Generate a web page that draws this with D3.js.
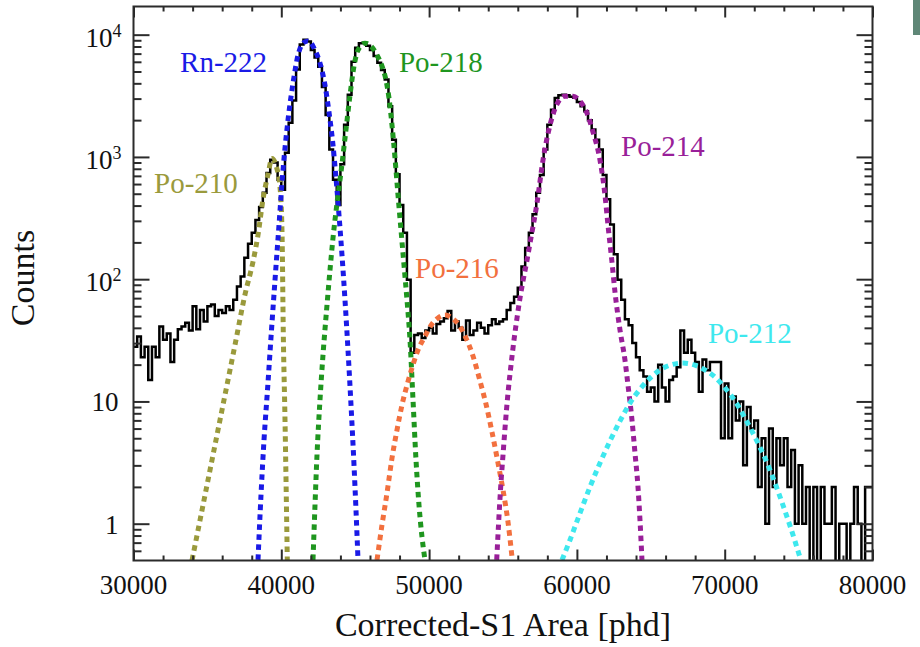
<!DOCTYPE html>
<html>
<head>
<meta charset="utf-8">
<script src="https://cdn.jsdelivr.net/npm/d3@7.9.0/dist/d3.min.js"></script>
<style>
  body { margin: 0; background: #fff; }
  svg { display: block; }
</style>
</head>
<body>
<div id="chart"></div>
<script>
// ---- data ----

// histogram: 250 phd bins starting at 30000
const BIN_START = 30000;
const BIN_WIDTH = 250;
const counts = [
  28, 34, 23, 28,   15, 28, 23, 41,   32, 36, 21, 32,   39, 41, 44, 38,
  60, 39, 56, 45,   60, 62, 50, 56,   53, 60, 56, 68,   87, 105, 150, 195,
  240, 305, 390, 510,   740, 950, 900, 650,   540, 1080, 1900, 2900,
  5200, 8300, 9100, 8800,   7500, 6500, 5470, 3730,   2200, 1150, 650, 405,
  870, 1830, 3230, 6000,   7800, 8500, 8600, 8100,   7500, 6700, 5900, 5150,
  4300, 2600, 1380, 720,   405, 240, 99, 25,   35, 36, 33, 38,
  40, 36, 43, 45,   48, 55, 38, 45,   40, 32, 46, 35,   38, 44, 40, 36,
  42, 47, 43, 45,   47, 56, 64, 72,   85, 127, 180, 240,
  340, 510, 710, 1150,   1830, 2430, 3030, 3200,   3230, 3200, 3100, 3050,
  2820, 2600, 2360, 2000,   1680, 1380, 1150, 710,   450, 280, 160, 99,
  68, 47, 42, 30,   23, 18, 16, 12,   13, 10, 20, 13,   10, 15, 16, 19,
  38, 25, 32, 25,   21, 12, 22, 18,   21, 21, 21, 5,   14, 5, 11, 7,
  10, 3, 9, 6,   7, 2, 5, 1,   6, 2, 5, 3,   5, 2, 4, 1,
  3, 1, 2, 0,   2, 0, 2, 1,   1, 2, 0, 1,   1, 0, 1, 2,   1, 0, 2, 2
];

// fitted components: [phd, counts]
const po210 = [[33958, 0.5], [35514, 4.4], [36867, 29], [37544, 75], [38085, 139], [38424, 230],
  [38760, 450], [39100, 720], [39370, 970], [39640, 850], [39910, 570], [40050, 240],
  [40135, 36], [40250, 7.1], [40406, 0.5]];
const rn222 = [[38424, 0.505], [38627, 1.72], [38830, 4.83], [39066, 12.4], [39337, 38.4],
  [39574, 98.3], [39844, 277], [40115, 780], [40453, 2000], [40792, 4010], [41130, 6800],
  [41468, 8520], [41739, 8850], [41942, 8690], [42280, 7470], [42618, 5850], [42957, 3865],
  [43227, 2325], [43498, 1249], [43701, 671], [43904, 334], [44107, 157], [44310, 67.5],
  [44513, 26.3], [44716, 9.35], [44919, 3.02], [45054, 1.29], [45190, 0.505]];
const po218 = [[42145, 0.505], [42280, 1.42], [42415, 3.64], [42618, 10.3], [42821, 24.0],
  [43092, 61.4], [43295, 119], [43498, 217], [43769, 419], [44039, 751], [44310, 1425],
  [44648, 3202], [44919, 5527], [45190, 7470], [45663, 8520], [46069, 8054], [46475, 6800],
  [46813, 5527], [47084, 4246], [47287, 3026], [47490, 1820], [47693, 978], [47896, 487],
  [48099, 252], [48302, 130], [48505, 67.5], [48708, 31.8], [48911, 10.3], [49114, 3.32],
  [49317, 1.42], [49520, 0.778], [49723, 0.505]];
const po216 = [[46475, 0.505], [46813, 0.976], [47151, 1.78], [47490, 3.44], [47828, 5.84],
  [48166, 9.35], [48505, 13.6], [48843, 18.8], [49249, 26.3], [49723, 34.2], [50196, 43.0],
  [50602, 48.1], [51076, 50.9], [51549, 48.1], [52023, 42.1], [52497, 33.0], [52970, 23.5],
  [53444, 14.7], [53850, 9.52], [54256, 5.62], [54662, 3.14], [55000, 1.89], [55339, 1.03],
  [55609, 0.534]];
const po214 = [[54574, 0.505], [54696, 0.976], [54831, 1.89], [55000, 3.64], [55169, 6.79],
  [55338, 11.7], [55541, 19.8], [55744, 31.8], [55947, 48.1], [56150, 70.1], [56353, 96.5],
  [56624, 143], [56827, 197], [57300, 419], [57706, 942], [58180, 1820], [58653, 2700],
  [59194, 3140], [59735, 3140], [60209, 2860], [60683, 2280], [61089, 1600], [61562, 942],
  [61900, 487], [62103, 277], [62374, 138], [62577, 78.5], [62915, 38.4], [63253, 21.8],
  [63456, 13.6], [63727, 7.05], [63930, 3.79], [64133, 2.0], [64268, 1.07], [64403, 0.505]];
const po212 = [[58992, 0.505], [59533, 0.736], [60210, 1.22], [60886, 2.0], [61563, 3.14],
  [62239, 4.75], [62916, 6.92], [63592, 9.7], [64269, 12.6], [64945, 15.5], [65622, 18.1],
  [66298, 19.8], [67178, 20.6], [67990, 19.8], [68667, 18.1], [69343, 15.8], [70020, 12.9],
  [70696, 10.1], [71373, 7.3], [72050, 5.1], [72726, 3.44], [73403, 2.15], [74079, 1.27],
  [74755, 0.72], [75093, 0.53]];

const fits = [
  { name: 'Po-210', pts: po210, color: '#9a9a3c', label: [31390, 510] },
  { name: 'Rn-222', pts: rn222, color: '#1a1ae6', label: [33150, 4980] },
  { name: 'Po-218', pts: po218, color: '#1f961f', label: [47960, 4980] },
  { name: 'Po-216', pts: po216, color: '#f2703e', label: [49050, 103] },
  { name: 'Po-214', pts: po214, color: '#991f99', label: [62985, 1025] },
  { name: 'Po-212', pts: po212, color: '#3ee8ee', label: [68870, 30.2] }
];

const xMajor = [30000, 40000, 50000, 60000, 70000, 80000];
const xMinor = d3.range(32000, 80000, 2000).filter(v => v % 10000 !== 0);
const yMajor = [1, 10, 100, 1000, 10000];
const yMinor = [0.6, 0.7, 0.8, 0.9, 2, 3, 4, 5, 6, 7, 8, 9, 20, 30, 40, 50, 60, 70, 80, 90,
  200, 300, 400, 500, 600, 700, 800, 900, 2000, 3000, 4000, 5000, 6000, 7000, 8000, 9000];

// ---- layout ----
const W = 920, H = 647;
const L = 133.5, R = 872.5, T = 6.5, B = 560.5;
const SERIF = '"Liberation Serif", "Times New Roman", serif';
const AX = '#2b2b2b';

const x = d3.scaleLinear().domain([30000, 80000]).range([L, R]);
const y = d3.scaleLog().domain([0.5, 17000]).range([B, T]);
const yc = c => y(Math.max(c, 0.3));

const svg = d3.select('#chart').append('svg')
  .attr('width', W).attr('height', H)
  .attr('viewBox', `0 0 ${W} ${H}`);

svg.append('rect').attr('width', W).attr('height', H).attr('fill', '#fff');

// stray bit of the neighbouring panel
svg.append('rect').attr('x', 913).attr('y', 0).attr('width', 7).attr('height', 35).attr('fill', '#5f8777');

svg.append('clipPath').attr('id', 'plot')
  .append('rect').attr('x', L).attr('y', T).attr('width', R - L).attr('height', B - T);

const g = svg.append('g').attr('clip-path', 'url(#plot)');

// histogram
const steps = counts.map((c, i) => [BIN_START + i * BIN_WIDTH, c]);
steps.push([BIN_START + counts.length * BIN_WIDTH, counts[counts.length - 1]]);

g.append('path')
  .datum(steps)
  .attr('fill', 'none')
  .attr('stroke', '#000')
  .attr('stroke-width', 2.5)
  .attr('stroke-linejoin', 'miter')
  .attr('d', d3.line().x(d => x(d[0])).y(d => yc(d[1])).curve(d3.curveStepAfter));

// fitted components
const fitLine = d3.line().x(d => x(d[0])).y(d => y(d[1])).curve(d3.curveMonotoneX);

g.selectAll('path.fit')
  .data(fits)
  .join('path')
  .attr('class', 'fit')
  .attr('fill', 'none')
  .attr('stroke', d => d.color)
  .attr('stroke-width', 5)
  .attr('stroke-dasharray', '5.5,4.5')
  .attr('d', d => fitLine(d.pts));

// labels
svg.selectAll('text.iso')
  .data(fits)
  .join('text')
  .attr('class', 'iso')
  .attr('x', d => x(d.label[0]))
  .attr('y', d => y(d.label[1]))
  .attr('fill', d => d.color)
  .attr('font-family', SERIF)
  .attr('font-size', 29)
  .text(d => d.name);

// ---- axes ----
function styleAxis(sel) {
  sel.select('.domain').remove();
  sel.selectAll('line').attr('stroke', AX).attr('stroke-width', 2);
  sel.selectAll('text').remove();
}

svg.append('g').attr('transform', `translate(0,${B})`)
  .call(d3.axisBottom(x).tickValues(xMajor).tickSize(-11)).call(styleAxis);
svg.append('g').attr('transform', `translate(0,${B})`)
  .call(d3.axisBottom(x).tickValues(xMinor).tickSize(-5)).call(styleAxis);
svg.append('g').attr('transform', `translate(0,${T})`)
  .call(d3.axisTop(x).tickValues(xMajor).tickSize(-11)).call(styleAxis);
svg.append('g').attr('transform', `translate(0,${T})`)
  .call(d3.axisTop(x).tickValues(xMinor).tickSize(-5)).call(styleAxis);

svg.append('g').attr('transform', `translate(${L},0)`)
  .call(d3.axisLeft(y).tickValues(yMajor).tickSize(-16)).call(styleAxis);
svg.append('g').attr('transform', `translate(${L},0)`)
  .call(d3.axisLeft(y).tickValues(yMinor).tickSize(-8)).call(styleAxis);
svg.append('g').attr('transform', `translate(${R},0)`)
  .call(d3.axisRight(y).tickValues(yMajor).tickSize(-16)).call(styleAxis);
svg.append('g').attr('transform', `translate(${R},0)`)
  .call(d3.axisRight(y).tickValues(yMinor).tickSize(-8)).call(styleAxis);

// frame
svg.append('rect')
  .attr('x', L).attr('y', T).attr('width', R - L).attr('height', B - T)
  .attr('fill', 'none').attr('stroke', AX).attr('stroke-width', 2);

// x tick labels
svg.append('g').selectAll('text')
  .data(xMajor)
  .join('text')
  .attr('x', d => x(d))
  .attr('y', B + 33)
  .attr('text-anchor', 'middle')
  .attr('font-family', SERIF)
  .attr('font-size', 27)
  .attr('fill', '#111')
  .text(d => d);

// y tick labels: 1, 10, then powers of ten
const yLab = svg.append('g')
  .attr('font-family', SERIF)
  .attr('fill', '#111');

yMajor.forEach(v => {
  const p = Math.round(Math.log10(v));
  if (p < 2) {
    yLab.append('text')
      .attr('x', L - 15).attr('y', y(v) + 10)
      .attr('text-anchor', 'end')
      .attr('font-size', 27)
      .text(v);
  } else {
    const t = yLab.append('text')
      .attr('x', L - 12).attr('y', y(v) + 12)
      .attr('text-anchor', 'end')
      .attr('font-size', 27);
    t.append('tspan').text('10');
    t.append('tspan').attr('font-size', 18).attr('dy', -10).text(p);
  }
});

// axis titles
svg.append('text')
  .attr('x', (L + R) / 2)
  .attr('y', 636)
  .attr('text-anchor', 'middle')
  .attr('font-family', SERIF)
  .attr('font-size', 34)
  .attr('fill', '#111')
  .text('Corrected-S1 Area [phd]');

svg.append('text')
  .attr('transform', 'translate(34,278) rotate(-90)')
  .attr('text-anchor', 'middle')
  .attr('font-family', SERIF)
  .attr('font-size', 34)
  .attr('fill', '#111')
  .text('Counts');
</script>
</body>
</html>
